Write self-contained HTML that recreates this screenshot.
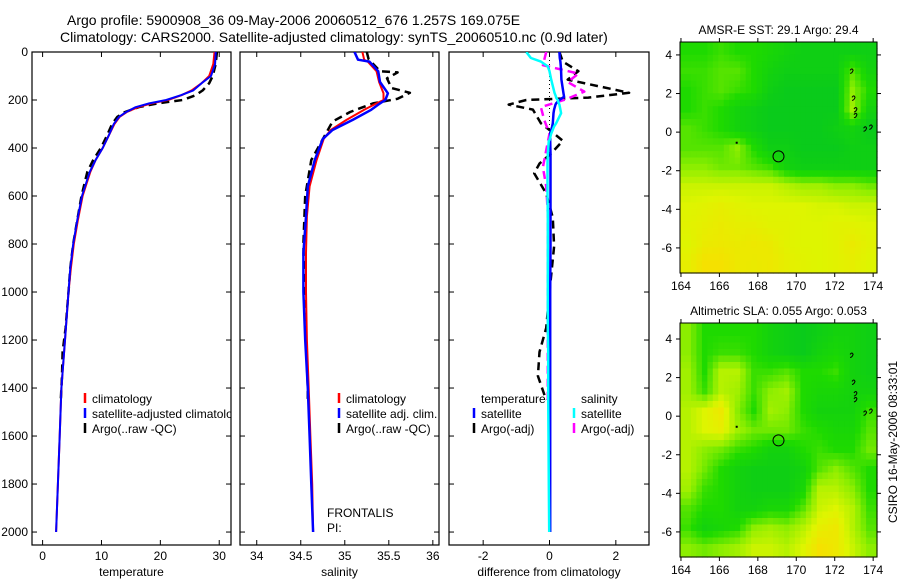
<!DOCTYPE html>
<html><head><meta charset="utf-8"><style>
html,body{margin:0;padding:0;background:#fff;}
svg{display:block;font-family:"Liberation Sans",sans-serif;}
</style></head><body>
<svg id="fig" width="900" height="580" viewBox="0 0 900 580" xmlns="http://www.w3.org/2000/svg">
<text x="67" y="25" font-size="14">Argo profile:  5900908_36 09-May-2006 20060512_676 1.257S 169.075E</text>
<text x="60" y="42" font-size="14">Climatology: CARS2000. Satellite-adjusted climatology: synTS_20060510.nc (0.9d later)</text>
<g id="plots"></g>
<text transform="translate(897,442) rotate(-90)" text-anchor="middle" font-size="12">CSIRO 16-May-2006 08:33:01</text>
</svg>
<script>
// ---- profile data ----
const depths   = [0,50,100,130,160,180,200,214,230,250,270,300,350,400,450,500,600,700,800,900,1000,1200,1400,1600,1800,2000];
const tClim    = [29.2,29.0,28.3,27.0,25.3,23.6,21.3,18.5,16.2,14.3,13.1,12.2,11.2,10.2,9.0,8.1,6.8,6.0,5.3,4.8,4.4,3.8,3.2,2.9,2.6,2.3];
const tSat     = [29.4,29.3,28.6,27.0,25.6,23.5,21.0,18.1,15.8,14.2,13.0,12.1,11.2,10.2,9.0,8.0,6.7,5.9,5.2,4.7,4.4,3.8,3.2,2.9,2.6,2.3];
const argoDepths = [0,50,100,130,160,180,200,214,230,250,270,300,350,400,450,500,600,700,800,900,1000,1150,1250,1350,1450];
const tArgo    = [29.6,29.4,28.9,28.3,27.2,26.0,23.8,19.5,16.3,14.0,12.7,11.8,10.9,9.9,8.6,7.6,6.6,5.9,5.2,4.7,4.4,3.9,3.4,3.3,3.1];
const sDepths  = [0,32,40,80,125,172,200,214,241,283,325,362,450,560,685,838,1000,1200,1400,1600,1800,2000];
const sSat     = [35.11,35.15,35.28,35.38,35.40,35.49,35.46,35.40,35.30,35.09,34.86,34.75,34.66,34.58,34.56,34.53,34.53,34.55,34.58,34.60,34.62,34.64];
const sClim    = [35.20,35.22,35.26,35.36,35.39,35.44,35.44,35.36,35.22,35.02,34.84,34.76,34.68,34.60,34.57,34.56,34.56,34.57,34.59,34.61,34.63,34.64];
const sArgoDepths = [0,30,80,85,110,150,170,195,214,250,290,450,600,800,1000,1200,1400,1450];
const sArgo    = [35.25,35.27,35.40,35.60,35.48,35.53,35.74,35.60,35.32,35.06,34.86,34.62,34.55,34.53,34.54,34.56,34.58,34.58];
const dDepths  = [0,25,40,60,80,115,170,187,190,200,214,219,240,255,297,310,340,367,370,422,465,505,560,590,690,810,1000,1150,1250,1350,1450,1600,1800,2000];
const dTSat    = [0.30,0.31,0.33,0.34,0.35,0.36,0.42,0.44,0.40,0.30,0.20,0.18,0.14,0.12,0.10,0.08,0.02,0.02,0.02,0.03,0.03,0.03,0.03,0.03,0.03,0.03,0.02,0.02,0.02,0.02,0.02,0.02,0.02,0.02];
const dSSat    = [-0.70,-0.56,-0.26,-0.05,0.00,0.05,0.15,0.20,0.20,0.25,0.28,0.30,0.33,0.35,0.20,0.14,0.05,0.00,-0.02,-0.05,-0.06,-0.06,-0.06,-0.06,-0.05,-0.05,-0.05,-0.05,-0.04,-0.04,-0.04,-0.03,-0.02,-0.01];
const aDepths  = [0,40,80,115,170,190,200,219,240,297,340,370,422,465,505,590,690,810,1000,1150,1250,1350,1450];
const dTArgo   = [0.30,0.40,0.87,0.55,2.40,1.17,-0.70,-1.23,-0.50,-0.26,0.14,0.40,0.05,-0.30,-0.46,-0.10,0.10,0.14,0.00,-0.10,-0.30,-0.35,-0.10];
const mDepths  = [0,55,90,125,165,197,230,283,340,480,560,670,900,1200,1450];
const dSArgo   = [-0.10,-0.20,0.87,0.55,1.05,0.50,-0.26,-0.16,0.00,-0.20,-0.10,-0.05,-0.05,-0.05,-0.05];
const depthTicks = [0,200,400,600,800,1000,1200,1400,1600,1800,2000];
const tTicks = [0,10,20,30];
const sTicks = [34,34.5,35,35.5,36];
const sTickLabels = ["34","34.5","35","35.5","36"];
const dTicks = [-2,0,2];
// ---- map data (0=dark green .. 1=orange) ----
const sstGrid = [
[0.30,0.30,0.35,0.30,0.30,0.25,0.20,0.15,0.15,0.15,0.15,0.15],
[0.35,0.35,0.40,0.40,0.30,0.20,0.15,0.15,0.15,0.15,0.40,0.20],
[0.30,0.35,0.40,0.35,0.30,0.15,0.10,0.10,0.10,0.10,0.50,0.30],
[0.30,0.35,0.30,0.20,0.15,0.10,0.10,0.10,0.10,0.10,0.55,0.20],
[0.40,0.35,0.30,0.20,0.15,0.10,0.10,0.10,0.10,0.15,0.20,0.10],
[0.40,0.40,0.40,0.50,0.30,0.15,0.15,0.10,0.10,0.10,0.15,0.15],
[0.50,0.50,0.45,0.45,0.40,0.35,0.20,0.15,0.15,0.15,0.15,0.15],
[0.65,0.65,0.65,0.65,0.65,0.65,0.60,0.55,0.55,0.50,0.50,0.45],
[0.70,0.72,0.75,0.72,0.70,0.70,0.70,0.70,0.68,0.68,0.65,0.65],
[0.72,0.75,0.78,0.75,0.75,0.72,0.72,0.70,0.70,0.72,0.72,0.70],
[0.70,0.78,0.80,0.78,0.80,0.78,0.72,0.70,0.70,0.72,0.78,0.72],
[0.75,0.85,0.85,0.80,0.78,0.80,0.75,0.72,0.70,0.72,0.75,0.70]];
const slaGrid = [
[0.50,0.30,0.30,0.30,0.30,0.20,0.15,0.10,0.15,0.20,0.20,0.15],
[0.50,0.30,0.35,0.35,0.30,0.20,0.15,0.10,0.20,0.25,0.20,0.15],
[0.55,0.30,0.60,0.60,0.35,0.35,0.40,0.30,0.30,0.35,0.20,0.15],
[0.55,0.35,0.60,0.55,0.35,0.50,0.55,0.30,0.25,0.25,0.20,0.20],
[0.60,0.70,0.80,0.50,0.30,0.55,0.50,0.30,0.20,0.20,0.20,0.35],
[0.60,0.70,0.75,0.55,0.45,0.45,0.45,0.35,0.30,0.25,0.25,0.40],
[0.60,0.50,0.45,0.35,0.30,0.20,0.20,0.30,0.35,0.30,0.30,0.45],
[0.60,0.45,0.30,0.20,0.15,0.15,0.15,0.20,0.40,0.50,0.40,0.30],
[0.55,0.35,0.30,0.20,0.15,0.15,0.15,0.25,0.60,0.60,0.50,0.30],
[0.40,0.30,0.30,0.20,0.20,0.25,0.25,0.40,0.65,0.70,0.60,0.35],
[0.35,0.20,0.25,0.30,0.50,0.55,0.50,0.60,0.75,0.80,0.60,0.40],
[0.50,0.45,0.50,0.55,0.65,0.65,0.60,0.70,0.85,0.80,0.65,0.50]];
const lonTicks = [164,166,168,170,172,174];
const latTicks = [4,2,0,-2,-4,-6];
const argoLon = 169.075, argoLat = -1.257;

const NS="http://www.w3.org/2000/svg";
const root=document.getElementById('plots');
function mk(tag,attrs,parent){const e=document.createElementNS(NS,tag);for(const k in attrs)e.setAttribute(k,attrs[k]);(parent||root).appendChild(e);return e;}

const Y0=52, Y1=545, D0=0, D1=2054;
const yD=d=>Y0+(d-D0)/(D1-D0)*(Y1-Y0);

function panel(name,x0,x1,v0,v1,ticks,labels,xlabel,showY){
  const g=mk('g',{});
  
  
  const xs=v=>x0+(v-v0)/(v1-v0)*(x1-x0);
  const f=mk('rect',{x:x0,y:Y0,width:x1-x0,height:Y1-Y0,fill:'none',stroke:'#000','stroke-width':1.2},g);
  
  
  ticks.forEach((t,i)=>{
    const x=xs(t);
    mk('line',{x1:x,x2:x,y1:Y1,y2:Y1-5,stroke:'#000'},g);
    mk('line',{x1:x,x2:x,y1:Y0,y2:Y0+5,stroke:'#000'},g);
    const tx=mk('text',{x:x,y:Y1+15,'font-size':12,'text-anchor':'middle'},g);
    tx.textContent=labels[i];
    
    
  });
  depthTicks.forEach(d=>{
    const y=yD(d);
    mk('line',{x1:x0,x2:x0+5,y1:y,y2:y,stroke:'#000'},g);
    mk('line',{x1:x1,x2:x1-5,y1:y,y2:y,stroke:'#000'},g);
    if(showY){const t=mk('text',{x:x0-4,y:y+4,'font-size':12,'text-anchor':'end'},g);t.textContent=d;
      
      }
  });
  const xl=mk('text',{x:(x0+x1)/2,y:576,'font-size':12,'text-anchor':'middle'},g);
  xl.textContent=xlabel;
  
  
  const cid='clip'+name;
  const cp=mk('clipPath',{id:cid},g);mk('rect',{x:x0,y:Y0,width:x1-x0,height:Y1-Y0},cp);
  const inner=mk('g',{'clip-path':`url(#${cid})`},g);
  return {g,inner,xs};
}
function line(p,ds,vs,color,w,dash,nm){
  const pts=ds.map((d,i)=>p.xs(vs[i]).toFixed(1)+','+yD(d).toFixed(1)).join(' ');
  const a={points:pts,fill:'none',stroke:color,'stroke-width':w,'stroke-linejoin':'round'};
  if(dash)a['stroke-dasharray']=dash;
  const e=mk('polyline',a,p.inner);
  
  
}
function legend(g,x,y,items){
  items.forEach((it,i)=>{
    if(it[0])mk('line',{x1:x,x2:x,y1:y+i*15-10,y2:y+i*15,stroke:it[0],'stroke-width':2.5},g);
    const t=mk('text',{x:x+7,y:y+i*15,'font-size':12},g);t.textContent=it[1];
    
    
  });
}
const DASH='8,5';
const p1=panel('temperature-panel',32,231,-1.8,32,tTicks,tTicks.map(String),'temperature',true);
line(p1,argoDepths,tArgo,'#000',2.5,DASH,'temp-argo-line');
line(p1,depths,tClim,'#f00',2,null,'temp-climatology-line');
line(p1,depths,tSat,'#00f',2,null,'temp-satellite-line');
legend(p1.inner,85,403,[['#f00','climatology'],['#00f','satellite-adjusted climatology'],['#000','Argo(..raw -QC)']]);
const p2=panel('salinity-panel',240,439,33.81,36.07,sTicks,sTickLabels,'salinity',false);
line(p2,sArgoDepths,sArgo,'#000',2.5,DASH,'sal-argo-line');
line(p2,sDepths,sClim,'#f00',2,null,'sal-climatology-line');
line(p2,sDepths,sSat,'#00f',2.5,null,'sal-satellite-line');
legend(p2.inner,339,403,[['#f00','climatology'],['#00f','satellite adj. clim.'],['#000','Argo(..raw -QC)']]);
const fr=mk('text',{x:327,y:517,'font-size':12},p2.g);fr.textContent='FRONTALIS';

const pi=mk('text',{x:327,y:532,'font-size':12},p2.g);pi.textContent='PI:';

const p3=panel('difference-panel',449,649,-3.03,3.0,dTicks,dTicks.map(String),'difference from climatology',false);
mk('line',{x1:p3.xs(0),x2:p3.xs(0),y1:Y0,y2:yD(420),stroke:'#000','stroke-dasharray':'1,3'},p3.inner);
line(p3,aDepths,dTArgo,'#000',2.5,DASH,'diff-temp-argo-line');
line(p3,mDepths,dSArgo,'#f0f',2.5,DASH,'diff-sal-argo-line');
line(p3,dDepths,dTSat,'#00f',2.5,null,'diff-temp-satellite-line');
line(p3,dDepths,dSSat,'#0ff',2.5,null,'diff-sal-satellite-line');
legend(p3.inner,474,403,[[null,'temperature'],['#00f','satellite'],['#000','Argo(-adj)']]);
legend(p3.inner,574,403,[[null,'salinity'],['#0ff','satellite'],['#f0f','Argo(-adj)']]);

function col(v){
  const stops=[[0,[0,195,40]],[0.3,[30,218,0]],[0.5,[140,238,0]],[0.7,[222,245,0]],[0.85,[245,225,0]],[1,[255,185,0]]];
  for(let i=1;i<stops.length;i++){if(v<=stops[i][0]){const a=stops[i-1],b=stops[i],t=(v-a[0])/(b[0]-a[0]);
    return 'rgb('+a[1].map((c,j)=>Math.round(c+(b[1][j]-c)*t)).join(',')+')';}}
  return 'rgb(255,185,0)';
}
function sample(grid,fr,fc){
  const nr=grid.length,nc=grid[0].length;
  const r=Math.min(Math.max(fr-0.5,0),nr-1),c=Math.min(Math.max(fc-0.5,0),nc-1);
  const r0=Math.floor(r),c0=Math.floor(c),r1=Math.min(r0+1,nr-1),c1=Math.min(c0+1,nc-1);
  const tr=r-r0,tc=c-c0;
  return (grid[r0][c0]*(1-tc)+grid[r0][c1]*tc)*(1-tr)+(grid[r1][c0]*(1-tc)+grid[r1][c1]*tc)*tr;
}
function map(name,title,grid,x0,x1,y0,y1,lat0,lat1){
  const g=mk('g',{});
  
  
  const lon0=163.95,lon1=174.2;
  const xs=l=>x0+(l-lon0)/(lon1-lon0)*(x1-x0);
  const ys=l=>y0+(lat0-l)/(lat0-lat1)*(y1-y0);
  const nr=grid.length,nc=grid[0].length,S=3;
  const cw=(x1-x0)/(nc*S),ch=(y1-y0)/(nr*S);
  for(let r=0;r<nr*S;r++)for(let c=0;c<nc*S;c++){
    const v=sample(grid,(r+0.5)/S,(c+0.5)/S);
    const e=mk('rect',{x:(x0+c*cw).toFixed(1),y:(y0+r*ch).toFixed(1),width:(cw+0.6).toFixed(1),height:(ch+0.6).toFixed(1),fill:col(v)},g);
    
    
  }
  mk('rect',{x:x0,y:y0,width:x1-x0,height:y1-y0,fill:'none',stroke:'#000'},g);
  lonTicks.forEach(l=>{const x=xs(l);
    mk('line',{x1:x,x2:x,y1:y1,y2:y1+4,stroke:'#000'},g);
    mk('line',{x1:x,x2:x,y1:y0,y2:y0-4,stroke:'#000'},g);
    const t=mk('text',{x:x,y:y1+17,'font-size':12,'text-anchor':'middle'},g);t.textContent=l;
    });
  latTicks.forEach(l=>{const y=ys(l);
    mk('line',{x1:x0,x2:x0-4,y1:y,y2:y,stroke:'#000'},g);
    mk('line',{x1:x1,x2:x1+4,y1:y,y2:y,stroke:'#000'},g);
    const t=mk('text',{x:x0-8,y:y+4,'font-size':12,'text-anchor':'end'},g);t.textContent=l;
    });
  const tt=mk('text',{x:(x0+x1)/2,y:y0-8,'font-size':12,'text-anchor':'middle'},g);tt.textContent=title;
  
  const m=mk('circle',{cx:xs(argoLon),cy:ys(argoLat),r:5.5,fill:'none',stroke:'#000'},g);
  
  mk('rect',{x:xs(166.9)-1,y:ys(-0.55)-1,width:2,height:2,fill:'#000'},g);
  [[172.8,3.2],[172.9,1.8],[173.0,1.2],[173.0,0.9],[173.5,0.2],[173.8,0.3]].forEach(p=>{
    mk('path',{d:`M${xs(p[0])},${ys(p[1])} q2,-3 3,0 q-1,3 -3,3`,fill:'none',stroke:'#000','stroke-width':1},g);});
  return g;
}
map('sst-map','AMSR-E SST: 29.1  Argo: 29.4',sstGrid,680,877,42,273,4.67,-7.3);
map('sla-map','Altimetric SLA: 0.055  Argo: 0.053',slaGrid,680,877,323,557,4.83,-7.3);
</script>
</body></html>
